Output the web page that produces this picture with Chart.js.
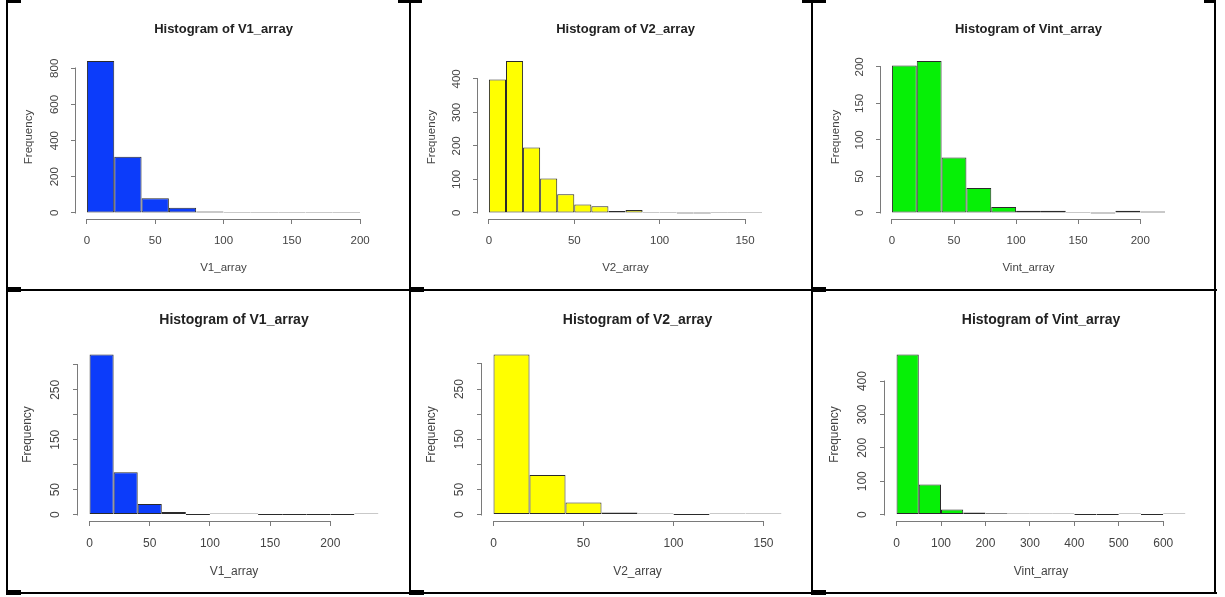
<!DOCTYPE html>
<html><head><meta charset="utf-8">
<script src="https://cdn.jsdelivr.net/npm/chart.js@4.4.0/dist/chart.umd.min.js"></script>
<style>
html,body{margin:0;padding:0;background:#fff;width:1225px;height:597px;overflow:hidden;}
body{position:relative;}
canvas{position:absolute;}
.ln{position:absolute;background:#000;}
</style></head><body>
<script>
// ---------------- DATA ----------------
const v1TopBreaks = [0,20,40,60,80,100,120,140,160,180,200];
const v1TopCounts = [840,311,81,29,8,3,2,2,1,1];
const v1TopXTicks = [0,50,100,150,200];
const v1TopYTicks = [0,200,400,600,800];
const v1TopYLabels = ['0','200','400','600','800'];

const v2TopBreaks = [0,10,20,30,40,50,60,70,80,90,100,110,120,130,140,150,160];
const v2TopCounts = [398,453,195,103,56,25,20,6,9,2,3,0,0,1,1,1];
const v2TopXTicks = [0,50,100,150];
const v2TopYTicks = [0,100,200,300,400];
const v2TopYLabels = ['0','100','200','300','400'];

const vintTopBreaks = [0,20,40,60,80,100,120,140,160,180,200,220];
const vintTopCounts = [202,208,76,34,8,3,3,1,0,3,2];
const vintTopXTicks = [0,50,100,150,200];
const vintTopYTicks = [0,50,100,150,200];
const vintTopYLabels = ['0','50','100','150','200'];

const v1BotBreaks = [0,20,40,60,80,100,120,140,160,180,200,220,240];
const v1BotCounts = [321,85,21,5,0,1,1,0,0,0,0,1];
const v1BotXTicks = [0,50,100,150,200];
const v1BotYTicks = [0,50,100,150,200,250,300];
const v1BotYLabels = ['0','50','','150','','250',''];

const v2BotBreaks = [0,20,40,60,80,100,120,140,160];
const v2BotCounts = [319,79,24,4,1,0,1,1];
const v2BotXTicks = [0,50,100,150];
const v2BotYTicks = [0,50,100,150,200,250,300];
const v2BotYLabels = ['0','50','','150','','250',''];

const vintBotBreaks = [0,50,100,150,200,250,300,350,400,450,500,550,600,650];
const vintBotCounts = [480,90,15,6,4,1,1,1,0,0,1,0,1];
const vintBotXTicks = [0,100,200,300,400,500,600];
const vintBotYTicks = [0,100,200,300,400];
const vintBotYLabels = ['0','100','200','300','400'];

const titleV1 = 'Histogram of V1_array', titleV2 = 'Histogram of V2_array', titleVint = 'Histogram of Vint_array';
const xNameV1 = 'V1_array', xNameV2 = 'V2_array', xNameVint = 'Vint_array';
const yName = 'Frequency';

// ---------------- LAYOUT / STYLE ----------------
const FONT = "'Liberation Sans', Arial, Helvetica, sans-serif";
const BLUE = '#0c3cfa', YELLOW = '#ffff00', GREEN = '#06f006';
const AXIS = '#7a7a7a';

const panels = [
  {title:titleV1, xName:xNameV1, breaks:v1TopBreaks, counts:v1TopCounts, xt:v1TopXTicks, yt:v1TopYTicks, yl:v1TopYLabels, color:BLUE,
   cell:[8,2,401,287], area:[76,55,371,219], tOff:26, xOff:49, yOff:47, tSize:13, fSize:11.5, xPad:10},
  {title:titleV2, xName:xNameV2, breaks:v2TopBreaks, counts:v2TopCounts, xt:v2TopXTicks, yt:v2TopYTicks, yl:v2TopYLabels, color:YELLOW,
   cell:[411,2,400,287], area:[478,55,773,219], tOff:26, xOff:49, yOff:46, tSize:13, fSize:11.5, xPad:10},
  {title:titleVint, xName:xNameVint, breaks:vintTopBreaks, counts:vintTopCounts, xt:vintTopXTicks, yt:vintTopYTicks, yl:vintTopYLabels, color:GREEN,
   cell:[813,2,401,287], area:[881,55,1176,219], tOff:26, xOff:49, yOff:45, tSize:13, fSize:11.5, xPad:10},
  {title:titleV1, xName:xNameV1, breaks:v1BotBreaks, counts:v1BotCounts, xt:v1BotXTicks, yt:v1BotYTicks, yl:v1BotYLabels, color:BLUE,
   cell:[8,291,401,301], area:[78,348,390,521], tOff:28, xOff:51, yOff:50, tSize:14, fSize:12, xPad:10},
  {title:titleV2, xName:xNameV2, breaks:v2BotBreaks, counts:v2BotCounts, xt:v2BotXTicks, yt:v2BotYTicks, yl:v2BotYLabels, color:YELLOW,
   cell:[411,291,400,301], area:[482,348,793,521], tOff:28, xOff:51, yOff:50, tSize:14, fSize:12, xPad:10},
  {title:titleVint, xName:xNameVint, breaks:vintBotBreaks, counts:vintBotCounts, xt:vintBotXTicks, yt:vintBotYTicks, yl:vintBotYLabels, color:GREEN,
   cell:[813,291,401,301], area:[885,348,1197,521], tOff:28, xOff:51, yOff:50, tSize:14, fSize:12, xPad:10}
];

// table lines [x,y,w,h]
const lines = [
  [6,289,1211,2],[6,592,1211,2],
  [6,0,2,594],[409,0,2,594],[811,0,2,594],[1214,0,2,594],
  [6,0,15,3],[398,0,24,3],[802,0,24,3],[1204,0,12,3],
  [6,287,15,5],[409,287,15,5],[811,287,15,5],
  [6,590,15,5],[409,590,15,5],[811,590,15,5]
];
lines.forEach(l => {
  const d = document.createElement('div'); d.className = 'ln';
  d.style.left = l[0]+'px'; d.style.top = l[1]+'px'; d.style.width = l[2]+'px'; d.style.height = l[3]+'px';
  document.body.appendChild(d);
});

Chart.defaults.font.family = FONT;
Chart.defaults.color = '#444';

const rAxes = {
  id: 'rAxes',
  afterDraw(chart) {
    const ctx = chart.ctx, xs = chart.scales.x, ys = chart.scales.y;
    const xt = xs.ticks, yt = ys.ticks;
    ctx.save(); ctx.strokeStyle = AXIS; ctx.lineWidth = 1;
    const yb = Math.round(xs.top) + 0.5;
    ctx.beginPath();
    ctx.moveTo(Math.round(xs.getPixelForValue(xt[0].value)) - 0.5, yb);
    ctx.lineTo(Math.round(xs.getPixelForValue(xt[xt.length-1].value)) + 0.5, yb);
    ctx.stroke();
    const xl = Math.round(ys.right) - 0.5;
    ctx.beginPath();
    ctx.moveTo(xl, Math.round(ys.getPixelForValue(yt[0].value)) + 0.5);
    ctx.lineTo(xl, Math.round(ys.getPixelForValue(yt[yt.length-1].value)) - 0.5);
    ctx.stroke();
    ctx.restore();
  }
};

const WY = 60, HX = 60, TL = 5;

panels.forEach(p => {
  const [cx, cy, cw, ch] = p.cell;
  const [L, T, R, B] = p.area;
  const cv = document.createElement('canvas');
  cv.width = cw; cv.height = ch;
  cv.style.left = cx + 'px'; cv.style.top = cy + 'px';
  cv.style.width = cw + 'px'; cv.style.height = ch + 'px';
  document.body.appendChild(cv);

  const lo = p.breaks[0], hi = p.breaks[p.breaks.length - 1];
  const maxC = Math.max(...p.counts);
  const data = p.counts.map((c, i) => ({x: (p.breaks[i] + p.breaks[i+1]) / 2, y: c}));
  const tLh = p.tSize * 1.2, fLh = p.fSize * 1.2;
  const tPadB = p.tOff - tLh / 2;

  new Chart(cv, {
    type: 'bar',
    data: { datasets: [{ data, backgroundColor: p.color, borderColor: '#2a2a2a', borderWidth: 1,
      borderSkipped: false, barPercentage: 1, categoryPercentage: 1, minBarLength: 1, inflateAmount: 0 }] },
    options: {
      responsive: false, animation: false, devicePixelRatio: 1, events: [],
      layout: { padding: { left: L - cx - WY, right: cx + cw - R, top: T - cy - tLh - tPadB, bottom: cy + ch - B - HX } },
      plugins: {
        legend: { display: false }, tooltip: { enabled: false },
        title: { display: true, text: p.title, fullSize: false, color: '#222',
          font: { size: p.tSize, weight: 'bold', lineHeight: 1.2 }, padding: { top: 0, bottom: tPadB } }
      },
      scales: {
        x: {
          type: 'linear', bounds: 'data', offset: false,
          min: lo - 0.04 * (hi - lo), max: hi + 0.04 * (hi - lo),
          afterBuildTicks: s => { s.ticks = p.xt.map(v => ({value: v})); },
          afterFit: s => { s.height = HX; },
          ticks: { autoSkip: false, maxRotation: 0, minRotation: 0, padding: p.xPad, font: { size: p.fSize },
            callback: (v, i) => String(p.xt[i]) },
          grid: { display: true, offset: false, drawOnChartArea: false, drawTicks: true, tickLength: TL, color: AXIS },
          border: { display: false },
          title: { display: true, text: p.xName, color: '#444', font: { size: p.fSize, lineHeight: 1.2 },
            padding: { top: 0, bottom: HX - p.xOff - fLh / 2 } }
        },
        y: {
          type: 'linear', bounds: 'data', offset: false,
          min: -0.04 * maxC, max: 1.04 * maxC,
          afterBuildTicks: s => { s.ticks = p.yt.map(v => ({value: v})); },
          afterFit: s => { s.width = WY; },
          ticks: { autoSkip: false, minRotation: 90, maxRotation: 90, crossAlign: 'center', padding: 7,
            font: { size: p.fSize }, callback: (v, i) => p.yl[i] },
          grid: { display: true, offset: false, drawOnChartArea: false, drawTicks: true, tickLength: TL, color: AXIS },
          border: { display: false },
          title: { display: true, text: yName, color: '#444', font: { size: p.fSize, lineHeight: 1.2 },
            padding: { top: WY - p.yOff - fLh / 2, bottom: 0 } }
        }
      }
    },
    plugins: [rAxes]
  });
});
</script>
</body></html>
